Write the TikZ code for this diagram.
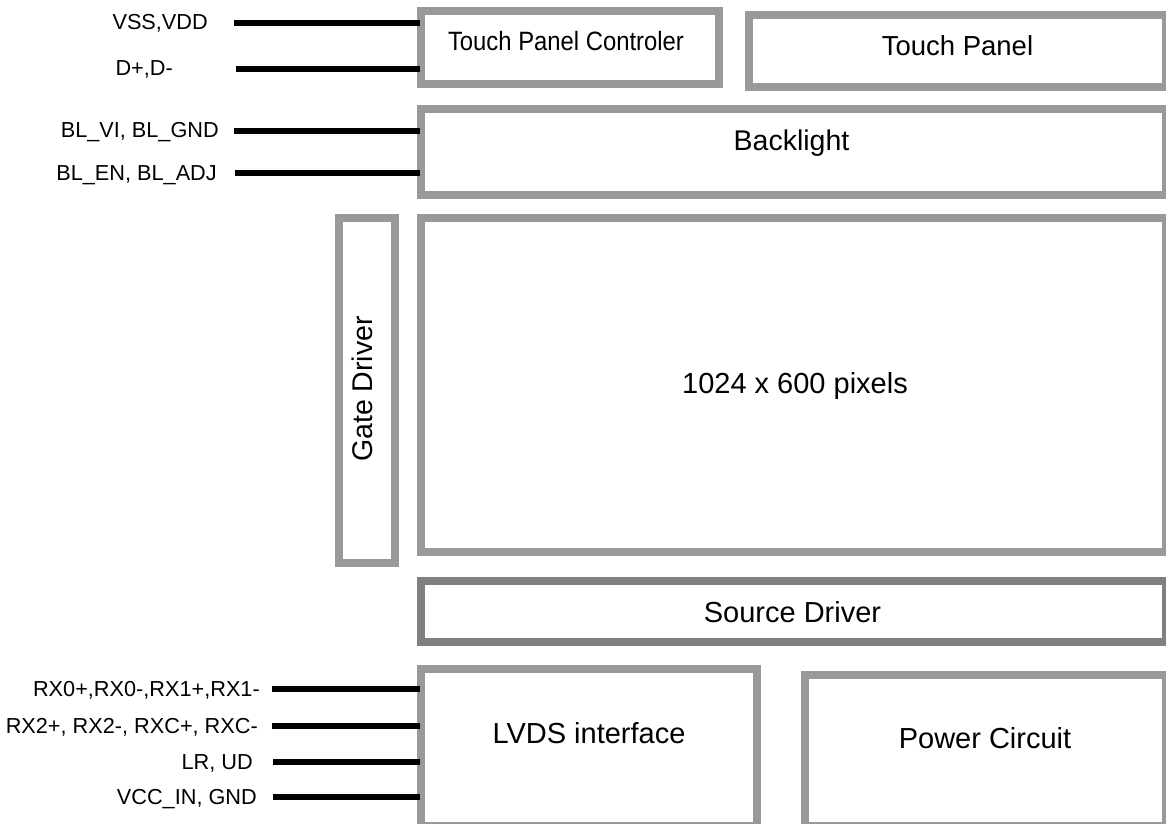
\documentclass[tikz,border=0pt]{standalone}
\usepackage{fontspec}
\setmainfont{Liberation Sans}
\newfontfamily\narrowsf{Liberation Sans}[FakeStretch=0.9]
\usetikzlibrary{positioning}
\definecolor{frame}{HTML}{999999}
\definecolor{framedark}{HTML}{808080}
\definecolor{pinblack}{HTML}{000000}

\begin{document}
\begin{tikzpicture}[x=1pt,y=-1pt,
      blk/.style={draw=frame,line width=8pt,fill=white,rectangle,inner sep=0pt},
      txt/.style={font=\fontsize{28.5}{30}\selectfont,inner sep=0pt,anchor=base},
      sig/.style={font=\fontsize{21.7}{23}\selectfont,inner sep=0pt,anchor=base east},
      pin/.style={draw=pinblack,line width=6pt}]
    \useasboundingbox (0,0) rectangle (1166,823);
    \begin{scope}
    \clip (0,0) rectangle (1166,823);
    % blocks
    \node[blk,minimum width=298pt,minimum height=73pt] (tpc) at (570,47.5) {};
    \node[blk,minimum width=417pt,minimum height=72pt] (tp) at (957.5,51) {};
    \node[blk,minimum width=745pt,minimum height=86pt] (bl) at (793.5,152) {};
    \node[blk,minimum width=56pt,minimum height=345pt] (gd) at (367,390.5) {};
    \node[blk,minimum width=745pt,minimum height=334pt] (px) at (793.5,385) {};
    \node[blk,draw=framedark,minimum width=745pt,minimum height=61pt] (sd) at (793.5,611.5) {};
    \node[blk,minimum width=336pt,minimum height=157pt] (lvds) at (589,747.5) {};
    \node[blk,minimum width=361pt,minimum height=151pt] (pwr) at (985.5,750.5) {};
    \end{scope}
    % block texts
    \node[txt,font=\narrowsf\fontsize{26.5}{28}\selectfont] (tpct) at (566,50) {Touch Panel Controler};
    \node[txt,font=\fontsize{27.5}{29}\selectfont] (tpt) at (957.5,55) {Touch Panel};
    \node[txt] (blt) at (791.5,150) {Backlight};
    \node[txt,rotate=90] (gdt) at (372,389) {Gate Driver};
    \node[txt,font=\fontsize{29}{31}\selectfont] (pxt) at (795,393) {1024 x 600 pixels};
    \node[txt,font=\fontsize{29}{31}\selectfont] (sdt) at (792.5,622) {Source Driver};
    \node[txt,font=\fontsize{29}{31}\selectfont] (lvdst) at (589,743) {LVDS interface};
    \node[txt,font=\fontsize{29}{31}\selectfont] (pwrt) at (985,748) {Power Circuit};
    % signal labels
    \node[sig] (s1) at (208,29) {VSS,VDD};
    \node[sig] (s2) at (173,75) {D+,D-};
    \node[sig] (s3) at (219,137) {BL\_VI, BL\_GND};
    \node[sig] (s4) at (217,180) {BL\_EN, BL\_ADJ};
    \node[sig] (s5) at (260,696) {RX0+,RX0-,RX1+,RX1-};
    \node[sig] (s6) at (258,733) {RX2+, RX2-, RXC+, RXC-};
    \node[sig] (s7) at (253,769) {LR, UD};
    \node[sig] (s8) at (257,804) {VCC\_IN, GND};
    % pins
    \coordinate (p1) at (234,23);
    \coordinate (p2) at (236,69);
    \coordinate (p3) at (234,131);
    \coordinate (p4) at (235,173);
    \coordinate (p5) at (272,689);
    \coordinate (p6) at (272,726);
    \coordinate (p7) at (273,762);
    \coordinate (p8) at (273,797);
    \draw[pin] (p1) -- ([xshift=3pt]p1 -| tpc.west);
    \draw[pin] (p2) -- ([xshift=3pt]p2 -| tpc.west);
    \draw[pin] (p3) -- ([xshift=3pt]p3 -| bl.west);
    \draw[pin] (p4) -- ([xshift=3pt]p4 -| bl.west);
    \draw[pin] (p5) -- ([xshift=3pt]p5 -| lvds.west);
    \draw[pin] (p6) -- ([xshift=3pt]p6 -| lvds.west);
    \draw[pin] (p7) -- ([xshift=3pt]p7 -| lvds.west);
    \draw[pin] (p8) -- ([xshift=3pt]p8 -| lvds.west);
  \end{tikzpicture}
\end{document}
